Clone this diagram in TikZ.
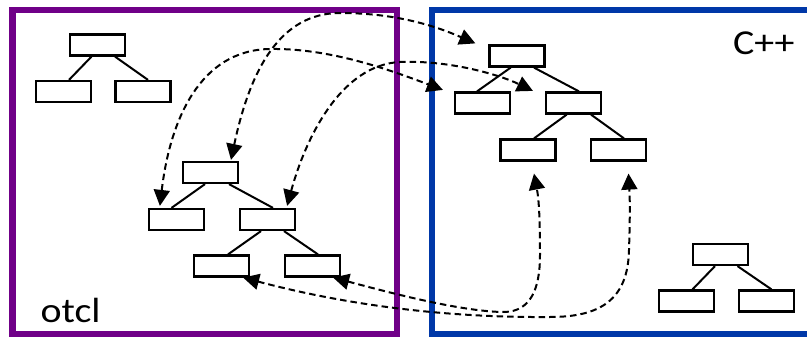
\documentclass[tikz,border=0pt]{standalone}
\usepackage{fontspec}
\setmainfont{Carlito}
\newfontfamily\labelfont{Carlito}[FakeStretch=1.14]
\usetikzlibrary{arrows.meta}
\definecolor{otclpurple}{RGB}{112,0,136}
\definecolor{cppblue}{RGB}{0,56,168}
\begin{document}
\begin{tikzpicture}[x=1pt,y=-1pt,
  obj/.style={draw=black, line width=2.2pt, fill=white,
    minimum width=55pt, minimum height=21pt, inner sep=0pt},
  link/.style={draw=black, line width=2pt},
  frame/.style={line width=6.5pt},
  bind/.style={draw=black, line width=2pt, dash pattern=on 6.5pt off 4pt,
    {Triangle[length=16pt,width=16pt]}-{Triangle[length=16pt,width=16pt]}},
  lang/.style={inner sep=0pt, font=\labelfont\fontsize{35}{42}\selectfont}]
\fill[white] (0,0) rectangle (807,337);
\useasboundingbox (0,0) rectangle (807,337);

% language frames
\draw[frame, otclpurple] (12.7,10) rectangle (397,334);
\draw[frame, cppblue] (432,10) rectangle (820,334);
\node[lang, anchor=base west] (otclname) at (40.5,322.3) {otcl};
\node[lang, anchor=base west] (cppname) at (733,55) {C++};

% otcl: small tree
\node[obj] (a0) at (97.5,45) {};
\node[obj] (a1) at (63.5,91.5) {};
\node[obj] (a2) at (143,91.5) {};
% otcl: shadowed tree
\node[obj] (b0) at (210.5,172.5) {};
\node[obj] (b1) at (176.5,219.5) {};
\node[obj] (b2) at (267.5,219.5) {};
\node[obj] (b3) at (221.5,266) {};
\node[obj] (b4) at (312.5,266) {};
% C++: compiled tree
\node[obj] (c0) at (517,56) {};
\node[obj] (c1) at (482.5,103) {};
\node[obj] (c2) at (573.5,103) {};
\node[obj] (c3) at (528,150) {};
\node[obj] (c4) at (618.5,150) {};
% C++: small tree
\node[obj] (d0) at (720.5,254.5) {};
\node[obj] (d1) at (686.5,301) {};
\node[obj] (d2) at (766.5,301) {};

% parent-child links
\draw[link] ([xshift=-6pt]a0.south) -- ([xshift=5.5pt]a1.north);
\draw[link] ([xshift=17.5pt]a0.south) -- ([xshift=5pt]a2.north);
\draw[link] ([xshift=-5.5pt]b0.south) -- ([xshift=-5pt]b1.north);
\draw[link] ([xshift=18.5pt]b0.south) -- ([xshift=5.5pt]b2.north);
\draw[link] ([xshift=-6.5pt]b2.south) -- ([xshift=6.5pt]b3.north);
\draw[link] ([xshift=16.5pt]b2.south) -- ([xshift=5.5pt]b4.north);
\draw[link] ([xshift=-6.3pt]c0.south) -- ([xshift=-5.5pt]c1.north);
\draw[link] ([xshift=17pt]c0.south) -- ([xshift=5.5pt]c2.north);
\draw[link] ([xshift=-6.8pt]c2.south) -- ([xshift=6pt]c3.north);
\draw[link] ([xshift=17.5pt]c2.south) -- ([xshift=5.5pt]c4.north);
\draw[link] ([xshift=-5.5pt]d0.south) -- ([xshift=6pt]d1.north);
\draw[link] ([xshift=17pt]d0.south) -- ([xshift=5pt]d2.north);

% otcl <-> C++ bindings
\draw[bind] ([xshift=20.5pt,yshift=1pt]b0.north)
  .. controls (250,70) and (280,13) .. (340,13)
  .. controls (400,13) and (440,28) .. ([xshift=-13pt,yshift=1pt]c0.north west);
\draw[bind] ([xshift=12pt,yshift=2pt]b1.north west)
  .. controls (170,120) and (200,50) .. (270,49)
  .. controls (330,48) and (390,70) .. ([xshift=-11pt,yshift=1.5pt]c1.north west);
\draw[bind] ([xshift=-9pt,yshift=2pt]b2.north east)
  .. controls (305,140) and (340,65) .. (400,62)
  .. controls (450,60) and (500,75) .. ([xshift=-12pt,yshift=0.5pt]c2.north west);
\draw[bind] ([xshift=-7pt]b3.south east)
  .. controls (320,298) and (420,318) .. (550,317)
  .. controls (600,317) and (628,300) .. (629,250)
  .. controls (630,220) and (630,200) .. ([xshift=10pt,yshift=-12pt]c4.south);
\draw[bind] ([xshift=-8pt]b4.south east)
  .. controls (380,290) and (460,312) .. (505,312)
  .. controls (530,311) and (540,290) .. (540,255)
  .. controls (540,220) and (539,200) .. ([xshift=6pt,yshift=-12pt]c3.south);
\end{tikzpicture}
\end{document}
